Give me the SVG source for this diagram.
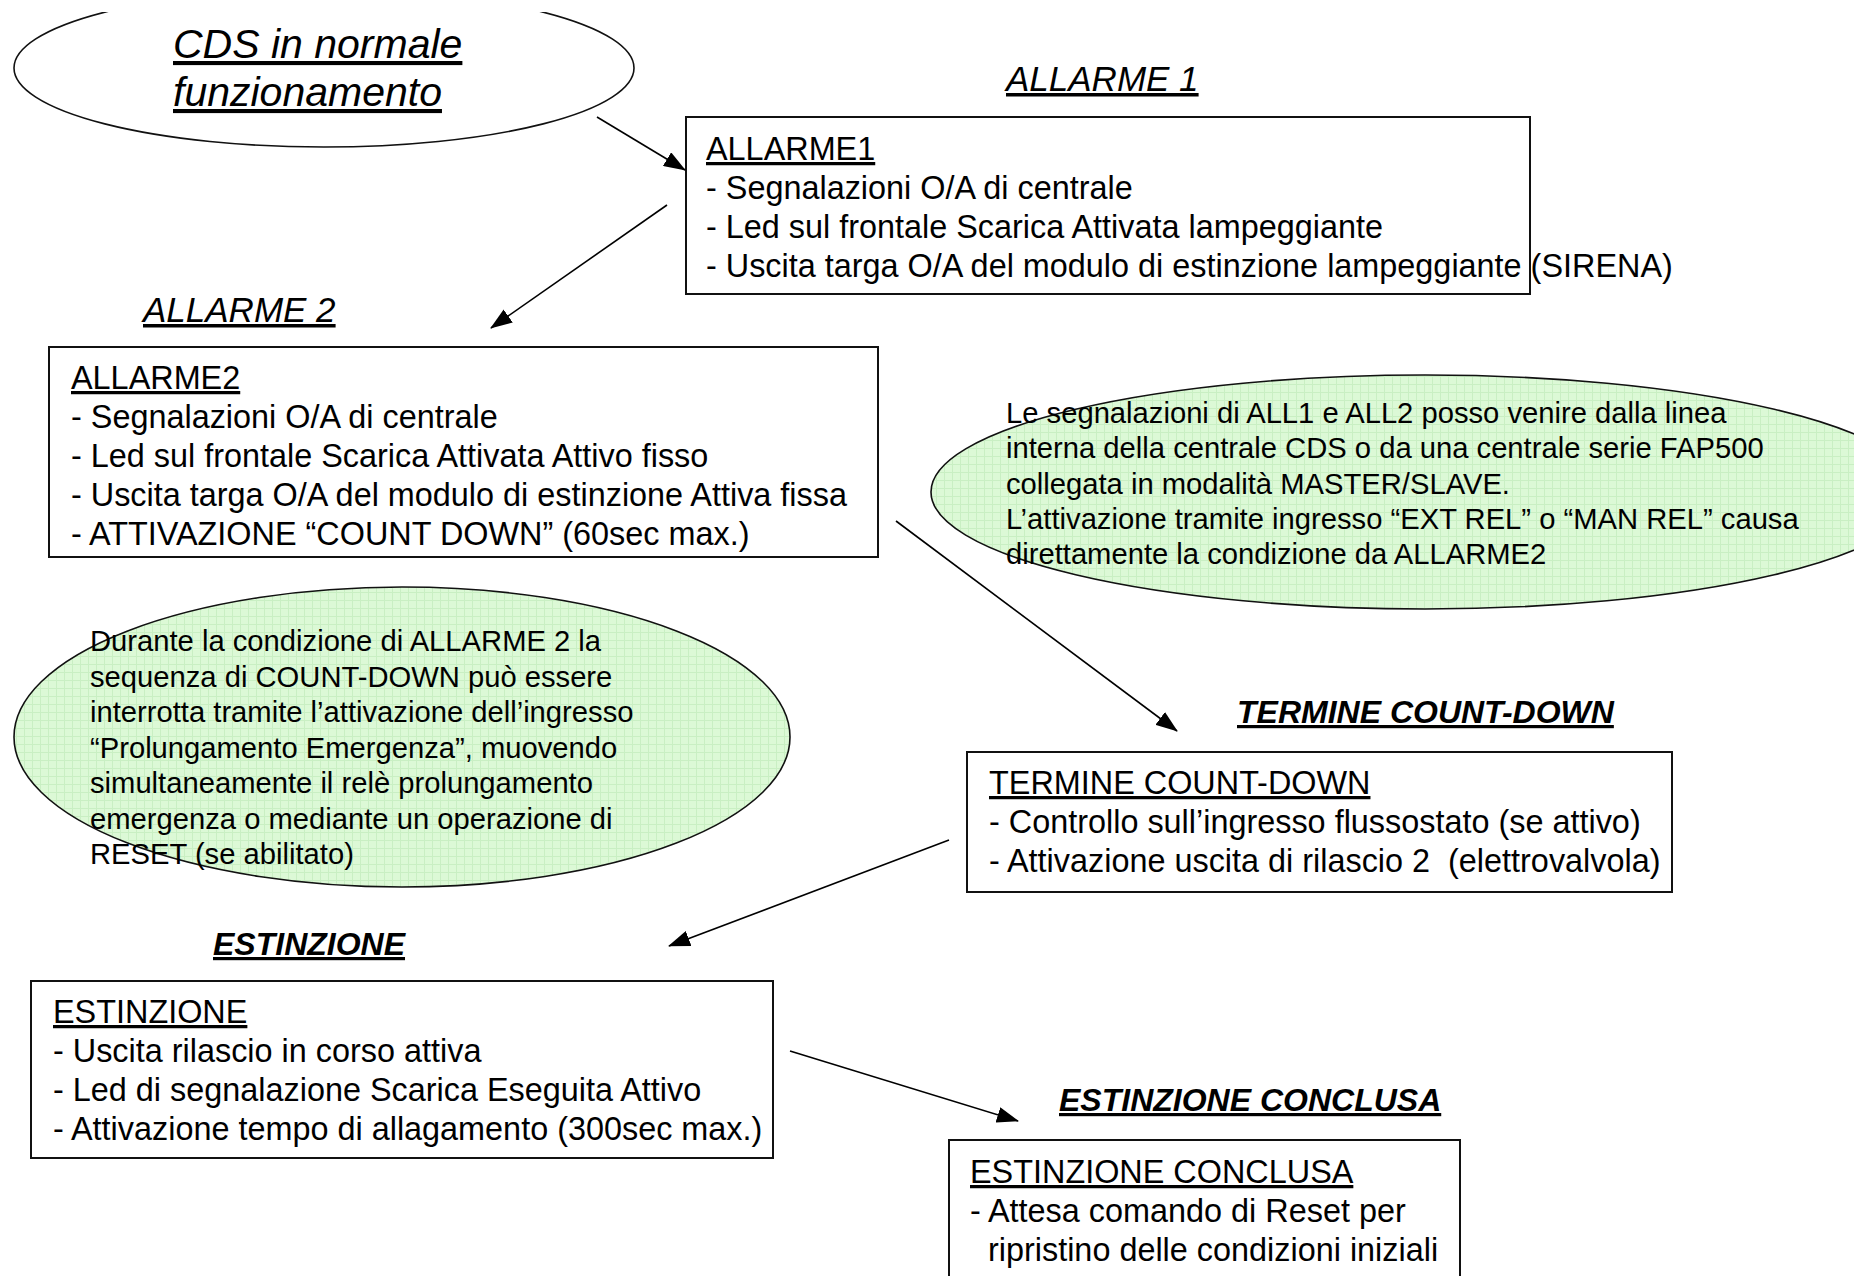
<svg xmlns="http://www.w3.org/2000/svg" width="1854" height="1276" viewBox="0 0 1854 1276">
<style>
text{font-family:"Liberation Sans",Arial,sans-serif;fill:#000}
.t{font-size:32.4px}
.u{text-decoration:underline}
.ti{font-size:35px;font-style:italic;text-decoration:underline}
.tb{font-size:32px;font-style:italic;font-weight:bold;text-decoration:underline}
.box{fill:#fff;stroke:#111;stroke-width:2}
.note{font-size:29.2px}
.gell{fill:url(#grid);stroke:#111;stroke-width:1.6}
.conn line{stroke:#000;stroke-width:1.6;marker-end:url(#ah)}
</style>
<defs>
<marker id="ah" viewBox="0 0 22 16" refX="21" refY="8" markerWidth="22" markerHeight="16" markerUnits="userSpaceOnUse" orient="auto">
<path d="M0,0 L22,8 L0,16 Z" fill="#000"/>
</marker>
<pattern id="grid" width="8" height="8" patternUnits="userSpaceOnUse">
<rect width="8" height="8" fill="#dcf9d6"/>
<path d="M0,0.5 H8 M0.5,0 V8" stroke="#c9efc3" stroke-width="1"/>
</pattern>
<clipPath id="topclip"><rect x="0" y="12" width="1854" height="1264"/></clipPath>
</defs>
<rect width="1854" height="1276" fill="#fff"/>

<g id="start">
<ellipse cx="324" cy="68" rx="310" ry="79" fill="none" stroke="#111" stroke-width="1.6" clip-path="url(#topclip)"/>
<text x="173" y="58" style="font-size:41px;font-style:italic;text-decoration:underline">CDS in normale</text>
<text x="173" y="106" style="font-size:41px;font-style:italic;text-decoration:underline">funzionamento</text>
</g>

<g id="allarme1">
<text class="ti" x="1006" y="91">ALLARME 1</text>
<rect class="box" x="686" y="117" width="844" height="177"/>
<text class="t u" x="706" y="160">ALLARME1</text>
<text class="t" x="706" y="199">- Segnalazioni O/A di centrale</text>
<text class="t" x="706" y="238">- Led sul frontale Scarica Attivata lampeggiante</text>
<text class="t" x="706" y="277">- Uscita targa O/A del modulo di estinzione lampeggiante (SIRENA)</text>
</g>

<g id="allarme2">
<text class="ti" x="143" y="322">ALLARME 2</text>
<rect class="box" x="49" y="347" width="829" height="210"/>
<text class="t u" x="71" y="389">ALLARME2</text>
<text class="t" x="71" y="428">- Segnalazioni O/A di centrale</text>
<text class="t" x="71" y="467">- Led sul frontale Scarica Attivata Attivo fisso</text>
<text class="t" x="71" y="506">- Uscita targa O/A del modulo di estinzione Attiva fissa</text>
<text class="t" x="71" y="545">- ATTIVAZIONE “COUNT DOWN” (60sec max.)</text>
</g>

<g id="note-right">
<ellipse class="gell" cx="1425" cy="492" rx="494" ry="117"/>
<text class="note" x="1006" y="423">Le segnalazioni di ALL1 e ALL2 posso venire dalla linea</text>
<text class="note" x="1006" y="458">interna della centrale CDS o da una centrale serie FAP500</text>
<text class="note" x="1006" y="494">collegata in modalità MASTER/SLAVE.</text>
<text class="note" x="1006" y="529">L’attivazione tramite ingresso “EXT REL” o “MAN REL” causa</text>
<text class="note" x="1006" y="564">direttamente la condizione da ALLARME2</text>
</g>

<g id="note-left">
<ellipse class="gell" cx="402" cy="737" rx="388" ry="150"/>
<text class="note" x="90" y="651">Durante la condizione di ALLARME 2 la</text>
<text class="note" x="90" y="687">sequenza di COUNT-DOWN può essere</text>
<text class="note" x="90" y="722">interrotta tramite l’attivazione dell’ingresso</text>
<text class="note" x="90" y="758">“Prolungamento Emergenza”, muovendo</text>
<text class="note" x="90" y="793">simultaneamente il relè prolungamento</text>
<text class="note" x="90" y="829">emergenza o mediante un operazione di</text>
<text class="note" x="90" y="864">RESET (se abilitato)</text>
</g>

<g id="termine">
<text class="tb" x="1237" y="723">TERMINE COUNT-DOWN</text>
<rect class="box" x="967" y="752" width="705" height="140"/>
<text class="t u" x="989" y="794">TERMINE COUNT-DOWN</text>
<text class="t" x="989" y="833">- Controllo sull’ingresso flussostato (se attivo)</text>
<text class="t" x="989" y="872" xml:space="preserve">- Attivazione uscita di rilascio 2  (elettrovalvola)</text>
</g>

<g id="estinzione">
<text class="tb" x="213" y="955">ESTINZIONE</text>
<rect class="box" x="31" y="981" width="742" height="177"/>
<text class="t u" x="53" y="1023">ESTINZIONE</text>
<text class="t" x="53" y="1062">- Uscita rilascio in corso attiva</text>
<text class="t" x="53" y="1101">- Led di segnalazione Scarica Eseguita Attivo</text>
<text class="t" x="53" y="1140">- Attivazione tempo di allagamento (300sec max.)</text>
</g>

<g id="conclusa">
<text class="tb" x="1059" y="1111">ESTINZIONE CONCLUSA</text>
<rect class="box" x="949" y="1140" width="511" height="160"/>
<text class="t u" x="970" y="1183">ESTINZIONE CONCLUSA</text>
<text class="t" x="970" y="1222">- Attesa comando di Reset per</text>
<text class="t" x="988" y="1261">ripristino delle condizioni iniziali</text>
</g>

<g id="connectors" class="conn">
<line x1="597" y1="117" x2="685" y2="170"/>
<line x1="667" y1="205" x2="491" y2="328"/>
<line x1="896" y1="521" x2="1177" y2="731"/>
<line x1="949" y1="840" x2="669" y2="946"/>
<line x1="790" y1="1051" x2="1018" y2="1121"/>
</g>
</svg>
